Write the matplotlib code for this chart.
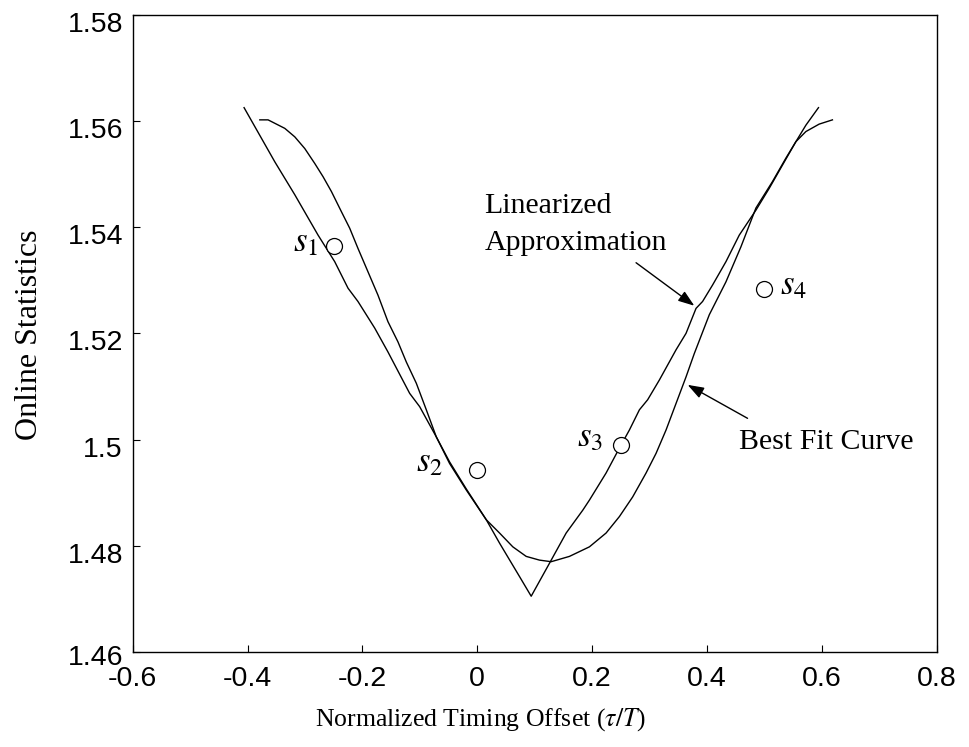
import matplotlib
matplotlib.use("Agg")
import matplotlib.pyplot as plt
import matplotlib.transforms as mtransforms

plt.rcParams['font.family'] = ['Liberation Serif', 'DejaVu Serif']
plt.rcParams['mathtext.fontset'] = 'stix'

# Linearized approximation (piecewise, digitized)
lin_x = [-0.406, -0.3525, -0.3177, -0.2772, -0.2482, -0.225, -0.2077, -0.1786,
         -0.1555, -0.1177, -0.1003, -0.0713, -0.0482, -0.0191, 0.0157, 0.0388,
         0.0736, 0.0939, 0.1257, 0.1548, 0.1837, 0.1953, 0.2243, 0.2475, 0.2649,
         0.2823, 0.2967, 0.3170, 0.3461, 0.3635, 0.3809, 0.3923, 0.4097, 0.4330,
         0.4562, 0.4852, 0.5083, 0.5315, 0.5548, 0.5722, 0.5941]
lin_y = [1.5625, 1.5523, 1.5461, 1.5385, 1.5335, 1.5285, 1.5260, 1.5210,
         1.5165, 1.5087, 1.5062, 1.5005, 1.4955, 1.4905, 1.4849, 1.4805,
         1.4742, 1.4705, 1.4767, 1.4824, 1.4867, 1.4886, 1.4937, 1.4984, 1.5018,
         1.5056, 1.5075, 1.5112, 1.5169, 1.5200, 1.5247, 1.5260, 1.5291, 1.5335,
         1.5385, 1.5432, 1.5473, 1.5517, 1.5561, 1.5592, 1.5625]

# Best fit curve
fit_x = [-0.3786, -0.3642, -0.3351, -0.3177, -0.3003, -0.2830, -0.2685, -0.2539,
         -0.2365, -0.2221, -0.2077, -0.1903, -0.1729, -0.1555, -0.1381, -0.1235,
         -0.1061, -0.0887, -0.0713, -0.0482, -0.0191, 0.0157, 0.0388, 0.0619,
         0.0852, 0.1083, 0.1287, 0.1605, 0.1953, 0.2243, 0.2475, 0.2706, 0.2939,
         0.3113, 0.3287, 0.3461, 0.3635, 0.3779, 0.4040, 0.4330, 0.4591, 0.4852,
         0.5141, 0.5374, 0.5548, 0.5722, 0.5953, 0.6184]
fit_y = [1.5602, 1.5602, 1.5586, 1.5570, 1.5548, 1.5520, 1.5495, 1.5467,
         1.5429, 1.5398, 1.5360, 1.5316, 1.5272, 1.5222, 1.5184, 1.5146,
         1.5106, 1.5056, 1.5005, 1.4958, 1.4907, 1.4849, 1.4824, 1.4798,
         1.4780, 1.4773, 1.4770, 1.4780, 1.4798, 1.4824, 1.4855, 1.4892, 1.4937,
         1.4974, 1.5018, 1.5068, 1.5118, 1.5162, 1.5235, 1.5297, 1.5363, 1.5436,
         1.5486, 1.5530, 1.5561, 1.5580, 1.5594, 1.5602]

# Online statistics samples
stat_x = [-0.25, 0.0, 0.25, 0.5]
stat_y = [1.5365, 1.4943, 1.4990, 1.5284]
stat_labels = [r'$s_1$', r'$s_2$', r'$s_3$', r'$s_4$']

x_ticks = [-0.6, -0.4, -0.2, 0, 0.2, 0.4, 0.6, 0.8]
y_ticks = [1.46, 1.48, 1.50, 1.52, 1.54, 1.56, 1.58]

fig = plt.figure(figsize=(9.69, 7.47), dpi=100)
ax = fig.add_axes([0.1369, 0.1272, 0.8298, 0.8531])

ax.plot(lin_x, lin_y, color='black', lw=1.0)
ax.plot(fit_x, fit_y, color='black', lw=1.0)
ax.plot(stat_x, stat_y, linestyle='none', marker='o', markersize=11.5,
        markerfacecolor='white', markeredgecolor='black', markeredgewidth=0.9)

# label offsets (points) and alignment for each sample
offsets = [(-11, 2), (-25, 5), (-13, 5), (11, 2)]
aligns = ['right', 'right', 'right', 'left']
for x, y, lab, off, ha in zip(stat_x, stat_y, stat_labels, offsets, aligns):
    ax.annotate(lab, xy=(x, y), xytext=off, textcoords='offset points',
                ha=ha, va='center', fontsize=25)

ax.text(0.0127, 1.5405, 'Linearized\nApproximation', fontsize=21.5,
        ha='left', va='center', linespacing=1.55)
ax.text(0.4562, 1.4995, 'Best Fit Curve', fontsize=21.5, ha='left', va='center')

arrow = dict(arrowstyle='-|>,head_length=0.7,head_width=0.25', color='black',
             lw=1.0, shrinkA=0, shrinkB=0, mutation_scale=14)
ax.annotate('', xy=(0.3779, 1.5252), xytext=(0.2765, 1.5333), arrowprops=arrow)
ax.annotate('', xy=(0.3663, 1.5103), xytext=(0.4706, 1.5040), arrowprops=arrow)

ax.set_xlim(-0.6, 0.8)
ax.set_ylim(1.46, 1.58)
ax.set_xticks(x_ticks)
ax.set_yticks(y_ticks)
ax.set_xticklabels(['%g' % v for v in x_ticks], family='Liberation Sans', fontsize=20.5)
ax.set_yticklabels(['%g' % v for v in y_ticks], family='Liberation Sans', fontsize=20.5)
ax.tick_params(direction='in', length=5, width=0.8, top=False, right=False)
ax.tick_params(axis='x', pad=10)
ax.tick_params(axis='y', pad=7)
for lbl, v in zip(ax.get_yticklabels(), y_ticks):
    dy = 2 if v == y_ticks[0] else 5
    shift = mtransforms.ScaledTranslation(0, -dy / 72, fig.dpi_scale_trans)
    lbl.set_transform(lbl.get_transform() + shift)

for sp in ax.spines.values():
    sp.set_linewidth(1.0)
    sp.set_color('black')

ax.set_xlabel(r'Normalized Timing Offset ($\tau/T$)', fontsize=18.5, va='center')
ax.xaxis.set_label_coords(0.4326, -0.1067)
ax.set_ylabel('Online Statistics', fontsize=23, va='center')
ax.yaxis.set_label_coords(-0.1277, 0.4974)

fig.savefig('out.png', dpi=100)
